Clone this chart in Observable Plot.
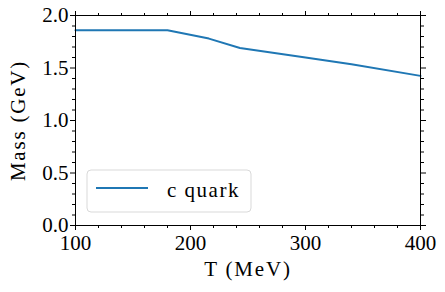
<!DOCTYPE html>
<html><head><meta charset="utf-8">
<script src="https://cdn.jsdelivr.net/npm/d3@7"></script>
<script src="https://cdn.jsdelivr.net/npm/@observablehq/plot@0.6"></script>
<style>body{margin:0;background:#fff}</style>
</head><body><div id="chart"></div>
<script>
const temperature = [100, 180, 216, 243, 300, 340, 400];
const mass = [1.86, 1.86, 1.78, 1.69, 1.60, 1.535, 1.425];
const seriesName = "c quark";
const xTicks = [100, 200, 300, 400];
const yTicks = [0, 0.5, 1.0, 1.5, 2.0];
const xLabel = "T (MeV)";
const yLabel = "Mass (GeV)";

const data = temperature.map((t, i) => ({t, m: mass[i]}));
const xMinor = d3.range(100, 401, 20).filter(v => v % 100 !== 0);
const yMinor = d3.range(0, 21).map(v => v / 10).filter(v => Math.round(v * 10) % 5 !== 0);

const FONT = "'Liberation Serif', 'DejaVu Serif', serif";
const W = 445, H = 292, ML = 75, MR = 25, MT = 15, MB = 67;

const chart = Plot.plot({
  width: W, height: H,
  marginLeft: ML, marginRight: MR, marginTop: MT, marginBottom: MB,
  style: {fontFamily: FONT, fontSize: "21px", background: "#fff", color: "#000"},
  x: {domain: [100, 400]},
  y: {domain: [0, 2]},
  marks: [
    Plot.line(data, {x: "t", y: "m", stroke: "#1f77b4", strokeWidth: 2}),
    Plot.axisX(xTicks, {anchor: "bottom", tickSize: 5, tickPadding: 5, fontSize: 21, label: null, tickFormat: d => String(d)}),
    Plot.axisX(xMinor, {anchor: "bottom", tickSize: 3, text: null, label: null}),
    Plot.axisX(xTicks, {anchor: "top", tickSize: 5, text: null, label: null}),
    Plot.axisX(xMinor, {anchor: "top", tickSize: 3, text: null, label: null}),
    Plot.axisY(yTicks, {anchor: "left", tickSize: 5, tickPadding: 2, fontSize: 21, label: null, tickFormat: d => d.toFixed(1)}),
    Plot.axisY(yMinor, {anchor: "left", tickSize: 3, text: null, label: null}),
    Plot.axisY(yTicks, {anchor: "right", tickSize: 5, text: null, label: null}),
    Plot.axisY(yMinor, {anchor: "right", tickSize: 3, text: null, label: null}),
    Plot.frame({stroke: "#000", strokeWidth: 1}),
    Plot.text([xLabel], {frameAnchor: "bottom", dy: 44, fontSize: 21, lineAnchor: "middle", textAnchor: "middle", text: d => d, className: "axlab"}),
    Plot.text([yLabel], {frameAnchor: "left", dx: -57, rotate: -90, fontSize: 21, lineAnchor: "middle", textAnchor: "middle", text: d => d, className: "axlab"})
  ]
});
document.getElementById("chart").appendChild(chart);

const svg = d3.select(chart);
svg.selectAll(".axlab text").attr("letter-spacing", "1.8px");

// legend inside the plot frame, lower-left
const fx = ML, fy = H - MB;
const g = svg.append("g").attr("font-family", FONT).attr("font-size", 21).attr("text-anchor", "start");
g.append("rect")
  .attr("x", fx + 12).attr("y", fy - 55).attr("width", 164).attr("height", 42)
  .attr("rx", 4).attr("fill", "#fff").attr("fill-opacity", 0.8)
  .attr("stroke", "#d9d9d9").attr("stroke-width", 1);
g.append("line")
  .attr("x1", fx + 21).attr("x2", fx + 73).attr("y1", fy - 37).attr("y2", fy - 37)
  .attr("stroke", "#1f77b4").attr("stroke-width", 2);
g.append("text")
  .attr("x", fx + 92).attr("y", fy - 28).attr("fill", "#000").attr("letter-spacing", "1.5px").text(seriesName);
</script>
</body></html>
